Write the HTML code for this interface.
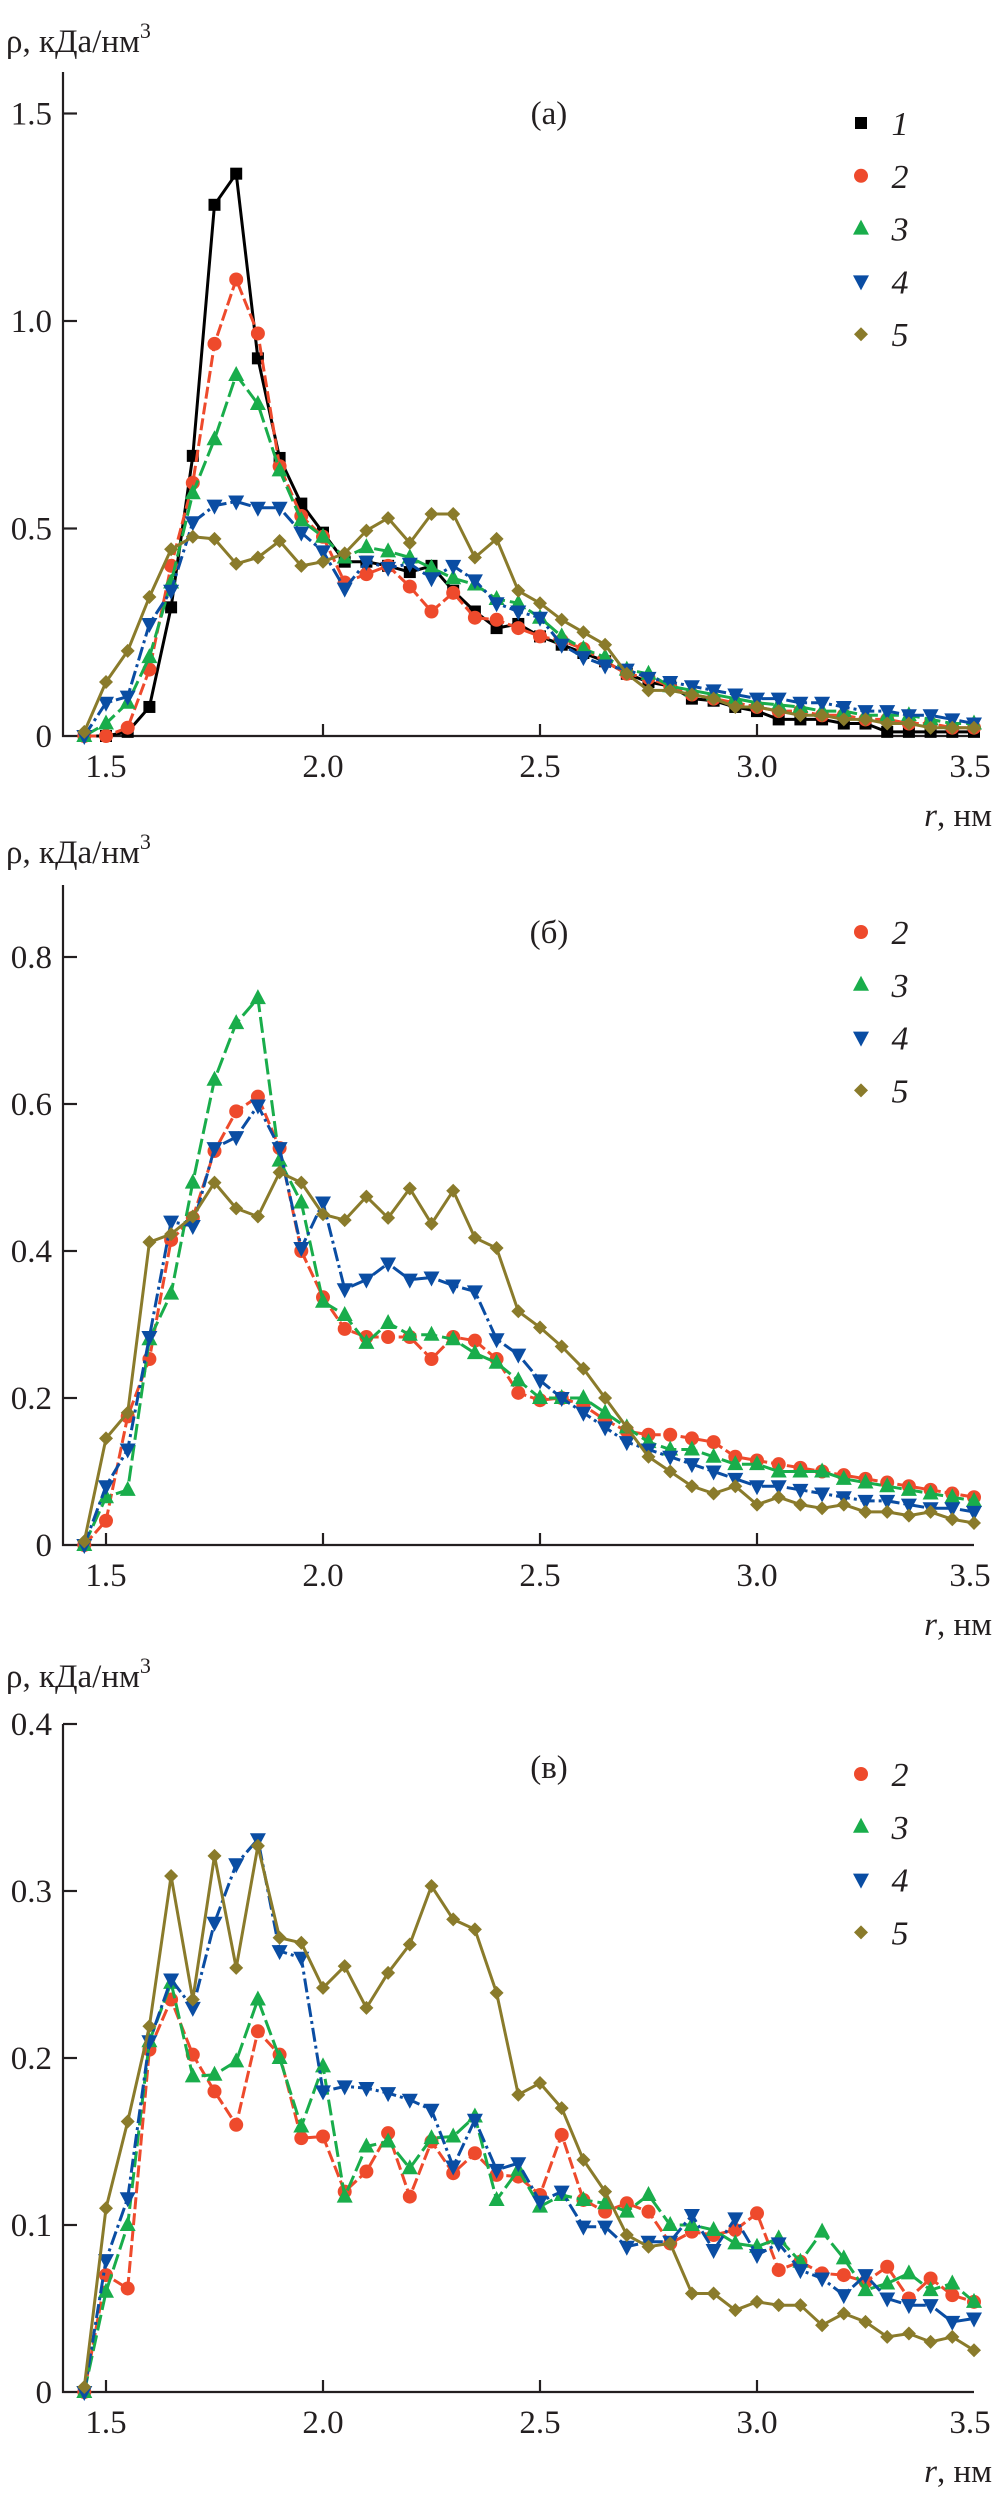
<!DOCTYPE html>
<html><head><meta charset="utf-8">
<style>
html,body{margin:0;padding:0;background:#fff;}
svg{display:block;}
text{font-family:"Liberation Serif",serif;fill:#231f20;}
</style></head>
<body>
<svg id="chart" width="999" height="2495" viewBox="0 0 999 2495" xmlns="http://www.w3.org/2000/svg"></svg>
<script>
const radii=[1.45,1.5,1.55,1.6,1.65,1.7,1.75,1.8,1.85,1.9,1.95,2.0,2.05,2.1,2.15,2.2,2.25,2.3,2.35,2.4,2.45,2.5,2.55,2.6,2.65,2.7,2.75,2.8,2.85,2.9,2.95,3.0,3.05,3.1,3.15,3.2,3.25,3.3,3.35,3.4,3.45,3.5];
const xTicks=[1.5,2.0,2.5,3.0,3.5];
const xTickLabels=["1.5","2.0","2.5","3.0","3.5"];
// panel a
const a1=[0,0,.01,.07,.31,.675,1.28,1.355,.91,.67,.56,.49,.42,.42,.41,.395,.41,.35,.30,.26,.27,.24,.22,.2,.18,.15,.13,.12,.09,.085,.07,.06,.04,.04,.04,.03,.03,.01,.01,.01,.01,.01];
const a2=[0,0,.02,.16,.41,.61,.945,1.10,.97,.65,.53,.48,.37,.39,.41,.36,.30,.345,.285,.28,.26,.24,.23,.21,.18,.15,.14,.12,.1,.09,.08,.07,.06,.06,.05,.05,.04,.04,.03,.03,.02,.02];
const a3=[0,.03,.08,.19,.37,.585,.715,.87,.80,.64,.52,.48,.43,.455,.445,.43,.405,.38,.365,.33,.32,.285,.24,.21,.19,.16,.15,.12,.11,.1,.09,.08,.075,.07,.06,.06,.05,.05,.05,.04,.03,.03];
const a4=[0,.08,.095,.27,.35,.515,.555,.565,.55,.55,.49,.445,.355,.42,.405,.415,.38,.41,.375,.32,.30,.285,.22,.19,.17,.16,.14,.13,.12,.11,.1,.09,.09,.08,.08,.07,.06,.06,.05,.05,.04,.03];
const a5=[.01,.13,.205,.335,.45,.48,.475,.415,.43,.47,.41,.42,.44,.495,.525,.465,.535,.535,.43,.475,.35,.32,.28,.25,.22,.15,.11,.11,.1,.09,.07,.07,.06,.05,.05,.04,.04,.03,.03,.02,.02,.02];
const aTicks=[0,0.5,1.0,1.5];
const aTickLabels=["0","0.5","1.0","1.5"];
// panel b
const b2=[0,.033,.175,.253,.415,.445,.536,.59,.61,.54,.40,.337,.294,.283,.283,.283,.253,.283,.278,.253,.207,.197,.2,.19,.17,.155,.15,.15,.145,.14,.12,.115,.11,.105,.1,.095,.09,.085,.08,.075,.07,.065];
const b3=[0,.065,.075,.28,.342,.493,.633,.71,.744,.523,.466,.331,.313,.275,.302,.286,.286,.28,.261,.248,.224,.2,.2,.2,.18,.16,.14,.13,.13,.12,.11,.11,.1,.1,.1,.09,.085,.08,.075,.07,.065,.06];
const b4=[0,.08,.13,.283,.44,.434,.54,.555,.598,.54,.404,.466,.348,.361,.383,.361,.364,.353,.345,.28,.259,.224,.2,.18,.16,.14,.13,.12,.11,.1,.09,.08,.08,.075,.07,.065,.06,.06,.055,.05,.05,.045];
const b5=[.005,.145,.18,.412,.423,.447,.493,.458,.447,.507,.493,.45,.442,.474,.445,.485,.437,.482,.418,.404,.318,.296,.27,.24,.2,.16,.12,.1,.08,.07,.08,.055,.065,.055,.05,.055,.045,.045,.04,.045,.035,.03];
const bTicks=[0,0.2,0.4,0.6,0.8];
const bTickLabels=["0","0.2","0.4","0.6","0.8"];
// panel c
const c2=[0,.07,.062,.205,.235,.202,.18,.16,.216,.202,.152,.153,.12,.132,.155,.117,.15,.131,.143,.13,.129,.118,.154,.115,.108,.113,.108,.089,.096,.094,.097,.107,.073,.078,.071,.07,.066,.075,.056,.068,.058,.054];
const c3=[0,.06,.1,.21,.245,.189,.19,.198,.235,.2,.159,.195,.117,.147,.15,.134,.152,.153,.165,.115,.133,.111,.118,.115,.113,.108,.118,.1,.1,.097,.089,.087,.092,.078,.096,.08,.061,.065,.071,.061,.065,.054];
const c4=[0,.079,.116,.21,.247,.23,.281,.316,.331,.264,.26,.18,.183,.182,.179,.175,.169,.135,.163,.133,.137,.114,.12,.099,.099,.087,.09,.09,.106,.085,.104,.082,.089,.073,.068,.058,.07,.056,.052,.052,.042,.044];
const c5=[.003,.11,.162,.219,.309,.235,.321,.254,.327,.272,.269,.242,.255,.23,.251,.268,.303,.283,.277,.239,.178,.185,.17,.139,.12,.094,.087,.089,.059,.059,.049,.054,.052,.052,.04,.047,.042,.033,.035,.03,.033,.025];
const cTicks=[0,0.1,0.2,0.3,0.4];
const cTickLabels=["0","0.1","0.2","0.3","0.4"];

const NS="http://www.w3.org/2000/svg";
const svg=document.getElementById('chart');
function el(tag,attrs,parent){const e=document.createElementNS(NS,tag);for(const k in attrs)e.setAttribute(k,attrs[k]);(parent||svg).appendChild(e);return e;}
const X0=63,X1=974;
function xs(r){return 106+(r-1.5)*434;}

const styles={
 1:{color:"#000000",dash:"",marker:"square"},
 2:{color:"#ee4a2c",dash:"12 4",marker:"circle"},
 3:{color:"#19ad4b",dash:"16 5",marker:"up"},
 4:{color:"#0a4da3",dash:"14 4 3 4",marker:"down"},
 5:{color:"#8a7b2b",dash:"",marker:"diamond"}
};
function marker(g,type,x,y,color){
 let m;
 if(type==="square") m=el('rect',{x:x-6,y:y-6,width:12,height:12,fill:color},g);
 else if(type==="circle") m=el('circle',{cx:x,cy:y,r:7,fill:color},g);
 else if(type==="up") m=el('polygon',{points:`${x},${y-9} ${x+8},${y+6} ${x-8},${y+6}`,fill:color},g);
 else if(type==="down") m=el('polygon',{points:`${x},${y+9} ${x+8},${y-6} ${x-8},${y-6}`,fill:color},g);
 else m=el('polygon',{points:`${x},${y-7} ${x+7},${y} ${x},${y+7} ${x-7},${y}`,fill:color},g);
 return m;
}

const panels=[
 {id:"a",title:"(а)",y0:736,per:415,top:72,ticks:aTicks,labels:aTickLabels,series:[[1,a1],[2,a2],[3,a3],[4,a4],[5,a5]],labelY:52,titleY:124,legY:123,legStep:52.8},
 {id:"b",title:"(б)",y0:1545,per:735,top:885,ticks:bTicks,labels:bTickLabels,series:[[2,b2],[3,b3],[4,b4],[5,b5]],labelY:863,titleY:943,legY:932,legStep:52.8},
 {id:"c",title:"(в)",y0:2392,per:1670,top:1724,ticks:cTicks,labels:cTickLabels,series:[[2,c2],[3,c3],[4,c4],[5,c5]],labelY:1687,titleY:1778,legY:1774,legStep:52.8}
];

panels.forEach(p=>{
 const g=el('g',{});
 
 
 const ys=v=>p.y0-v*p.per;
 // y-axis title
 const yt=el('text',{x:6,y:p.labelY,'font-size':33},g);
 
 
 yt.textContent="ρ, кДа/нм";
 const sup=el('tspan',{dy:-14,'font-size':22},yt); sup.textContent="3";
 // axes
 const ax=el('path',{d:`M${X0},${p.top} L${X0},${p.y0} L${X1},${p.y0}`,fill:"none",stroke:"#231f20","stroke-width":2.2},g);
 
 
 p.ticks.forEach((t,i)=>{
  const y=ys(t);
  if(t!==0) el('line',{x1:X0,y1:y,x2:X0+14,y2:y,stroke:"#231f20","stroke-width":2.2},g);
  const tl=el('text',{x:52,y:y+11,'font-size':33,'text-anchor':'end'},g);
  
  
  tl.textContent=p.labels[i];
 });
 xTicks.forEach((t,i)=>{
  const x=xs(t);
  if(t<3.5) el('line',{x1:x,y1:p.y0,x2:x,y2:p.y0-12,stroke:"#231f20","stroke-width":2.2},g);
  const tl=el('text',{x:t===3.5?x-4:x,y:p.y0+41,'font-size':33,'text-anchor':'middle'},g);
  
  
  tl.textContent=xTickLabels[i];
 });
 const xt=el('text',{x:992,y:p.y0+90,'font-size':33,'text-anchor':'end'},g);
 
 
 const ri=el('tspan',{'font-style':'italic'},xt); ri.textContent="r";
 const rn=el('tspan',{},xt); rn.textContent=", нм";
 // title
 const tt=el('text',{x:549,y:p.titleY,'font-size':33,'text-anchor':'middle'},g);
 
 
 tt.textContent=p.title;
 // series
 p.series.forEach(([k,vals])=>{
  const s=styles[k];
  const sg=el('g',{},g);
  
  
  const d=vals.map((v,i)=>(i?'L':'M')+xs(radii[i]).toFixed(1)+','+ys(v).toFixed(1)).join(' ');
  const ln=el('path',{d:d,fill:'none',stroke:s.color,'stroke-width':3,'stroke-dasharray':s.dash,'stroke-linejoin':'round'},sg);
  
  
  vals.forEach((v,i)=>{
   const m=marker(sg,s.marker,xs(radii[i]),ys(v),s.color);
   
   
  });
 });
 // legend
 p.series.forEach(([k],j)=>{
  const s=styles[k];
  const y=p.legY+j*p.legStep;
  const lg=el('g',{},g);
  
  
  marker(lg,s.marker,861,y,s.color);
  const lt=el('text',{x:900,y:y+12,'font-size':34,'font-style':'italic','text-anchor':'middle'},lg);
  lt.textContent=String(k);
 });
});
</script>
</body></html>
